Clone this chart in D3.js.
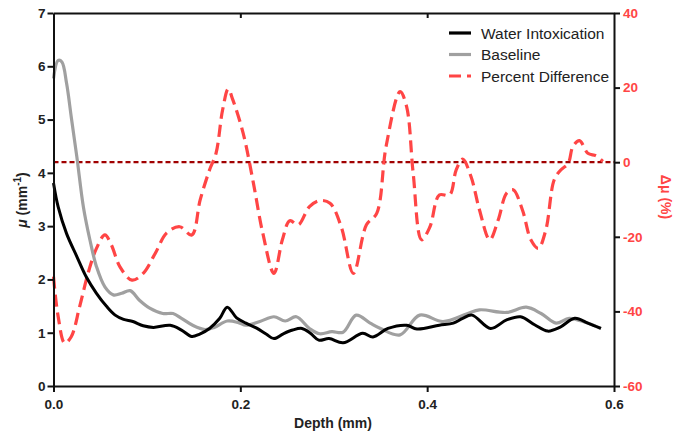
<!DOCTYPE html>
<html>
<head>
<meta charset="utf-8">
<script src="https://d3js.org/d3.v7.min.js"></script>
<style>
  body { margin: 0; background: #fff; }
  text { font-family: Arial, "Liberation Sans", sans-serif; }
  .tick text { font-weight: bold; font-size: 13.5px; }
</style>
</head>
<body>
<script>
//depth (mm) and attenuation (mm^-1) for the water intoxication curve
var waterDepth = [0.000, 0.005, 0.014, 0.025, 0.035, 0.046, 0.057, 0.066, 0.075, 0.085, 0.096, 0.107, 0.125, 0.137, 0.148, 0.156, 0.167, 0.178, 0.186, 0.196, 0.206, 0.217, 0.228, 0.236, 0.246, 0.256, 0.266, 0.275, 0.284, 0.295, 0.310, 0.331, 0.342, 0.358, 0.378, 0.389, 0.413, 0.428, 0.438, 0.448, 0.468, 0.485, 0.500, 0.515, 0.529, 0.542, 0.558, 0.572, 0.586];
var waterMu = [3.81, 3.36, 2.86, 2.43, 2.05, 1.74, 1.49, 1.33, 1.25, 1.21, 1.13, 1.10, 1.14, 1.05, 0.93, 0.97, 1.08, 1.27, 1.48, 1.28, 1.18, 1.09, 0.97, 0.89, 0.98, 1.05, 1.08, 0.99, 0.86, 0.89, 0.81, 0.99, 0.92, 1.08, 1.14, 1.07, 1.14, 1.18, 1.27, 1.33, 1.08, 1.24, 1.30, 1.15, 1.03, 1.10, 1.27, 1.18, 1.08];

//baseline curve
var baseDepth = [0.000, 0.005, 0.009, 0.014, 0.019, 0.025, 0.032, 0.039, 0.046, 0.055, 0.064, 0.073, 0.082, 0.092, 0.103, 0.117, 0.128, 0.137, 0.149, 0.162, 0.172, 0.186, 0.198, 0.206, 0.221, 0.236, 0.248, 0.260, 0.274, 0.285, 0.298, 0.310, 0.324, 0.339, 0.350, 0.371, 0.392, 0.417, 0.442, 0.456, 0.485, 0.506, 0.522, 0.538, 0.552, 0.570, 0.586];
var baseMu = [5.77, 6.11, 6.08, 5.68, 5.05, 4.30, 3.36, 2.74, 2.24, 1.86, 1.71, 1.74, 1.79, 1.61, 1.46, 1.36, 1.36, 1.27, 1.14, 1.06, 1.10, 1.22, 1.19, 1.14, 1.21, 1.30, 1.22, 1.30, 1.08, 0.98, 1.02, 1.01, 1.33, 1.18, 1.08, 0.96, 1.33, 1.21, 1.35, 1.43, 1.38, 1.48, 1.36, 1.18, 1.27, 1.19, 1.08];

//percent difference (right axis)
var diffDepth = [0.000, 0.005, 0.012, 0.019, 0.028, 0.037, 0.046, 0.055, 0.062, 0.071, 0.084, 0.096, 0.109, 0.121, 0.135, 0.148, 0.157, 0.167, 0.174, 0.181, 0.187, 0.192, 0.203, 0.214, 0.224, 0.236, 0.245, 0.253, 0.262, 0.274, 0.285, 0.296, 0.308, 0.321, 0.335, 0.346, 0.356, 0.371, 0.378, 0.385, 0.394, 0.403, 0.413, 0.424, 0.431, 0.438, 0.447, 0.456, 0.467, 0.476, 0.485, 0.492, 0.502, 0.511, 0.519, 0.527, 0.536, 0.543, 0.551, 0.556, 0.563, 0.572, 0.581, 0.588];
var diffPct = [-30.7, -41.4, -48.5, -46.8, -38.7, -29.8, -23.1, -19.5, -22.2, -28.0, -31.6, -29.8, -24.4, -19.0, -17.3, -19.5, -10.1, -2.1, 2.4, 14.0, 19.6, 16.7, 7.8, -5.6, -19.0, -29.8, -20.8, -15.7, -16.8, -11.9, -10.3, -11.0, -17.3, -29.8, -16.8, -13.7, 4.2, 18.9, 14.9, -2.9, -20.8, -17.3, -8.8, -8.8, -2.1, 0.8, -3.9, -12.8, -20.8, -15.5, -8.3, -7.4, -12.8, -20.8, -23.1, -18.2, -4.7, -2.1, -0.3, 4.2, 5.8, 2.4, 1.7, 0.2];

//tick values
var xTicks = [0.0, 0.2, 0.4, 0.6];
var leftTicks = [0, 1, 2, 3, 4, 5, 6, 7];
var rightTicks = [-60, -40, -20, 0, 20, 40];

//legend entries
var legendNames = ["Water Intoxication", "Baseline", "Percent Difference"];

window.onload = function(){
  var red = "#ff4545";

  var svg = d3.select("body")
    .append("svg")
    .attr("width", 677)
    .attr("height", 434);

  //scales
  var x = d3.scaleLinear().domain([0, 0.6]).range([53.5, 614]);
  var yL = d3.scaleLinear().domain([0, 7]).range([386, 13]);
  var yR = d3.scaleLinear().domain([-60, 40]).range([386, 13]);

  //zero line of the percent difference
  svg.append("line")
    .attr("x1", x(0)).attr("x2", x(0.6))
    .attr("y1", yR(0)).attr("y2", yR(0))
    .style("stroke", "#a00000")
    .style("stroke-width", 2.2)
    .style("stroke-dasharray", "5,3");

  //line generators
  function makeLine(xs, ys, yScale){
    return d3.line()
      .x(function(d, i){ return x(xs[i]); })
      .y(function(d){ return yScale(d); })
      .curve(d3.curveCatmullRom.alpha(0.5))(ys);
  }

  svg.append("path")
    .attr("d", makeLine(diffDepth, diffPct, yR))
    .style("fill", "none")
    .style("stroke", red)
    .style("stroke-width", 3.2)
    .style("stroke-dasharray", "12,6");

  svg.append("path")
    .attr("d", makeLine(baseDepth, baseMu, yL))
    .style("fill", "none")
    .style("stroke", "#a0a0a0")
    .style("stroke-width", 3.2);

  svg.append("path")
    .attr("d", makeLine(waterDepth, waterMu, yL))
    .style("fill", "none")
    .style("stroke", "#000")
    .style("stroke-width", 3);

  //bottom axis
  svg.append("g")
    .attr("transform", "translate(0,386)")
    .call(d3.axisBottom(x).tickValues(xTicks).tickFormat(d3.format(".1f")).tickSize(6).tickSizeOuter(0))
    .call(function(g){ g.selectAll("text").attr("dy", "1.05em").style("fill", "#222"); });

  //top axis, ticks point inwards, no labels
  svg.append("g")
    .attr("transform", "translate(0,13)")
    .call(d3.axisTop(x).tickValues([0.2, 0.4]).tickSize(-5).tickSizeOuter(0).tickFormat(""));

  //left axis
  svg.append("g")
    .attr("transform", "translate(53.5,0)")
    .call(d3.axisLeft(yL).tickValues(leftTicks).tickFormat(function(d){ return String(d); }).tickSize(6).tickSizeOuter(0))
    .call(function(g){ g.selectAll("text").attr("x", -8).style("fill", "#222"); });

  //right axis (plain hyphen for negatives)
  svg.append("g")
    .attr("transform", "translate(614,0)")
    .call(d3.axisRight(yR).tickValues(rightTicks).tickFormat(function(d){ return String(d); }).tickSize(6).tickSizeOuter(0))
    .call(function(g){ g.selectAll("text").attr("x", 9).style("fill", red); });

  svg.selectAll(".domain, .tick line")
    .style("stroke", "#111")
    .style("stroke-width", 2);

  //axis titles
  var yTitle = svg.append("text")
    .attr("transform", "translate(27,200) rotate(-90)")
    .attr("text-anchor", "middle")
    .style("font-size", "14px")
    .style("font-weight", "bold")
    .style("fill", "#222");
  yTitle.append("tspan").style("font-style", "italic").text("\u03bc");
  yTitle.append("tspan").text(" (mm");
  yTitle.append("tspan").attr("dy", -6).style("font-size", "10px").text("-1");
  yTitle.append("tspan").attr("dy", 6).text(")");

  svg.append("text")
    .attr("transform", "translate(661,197) rotate(90)")
    .attr("text-anchor", "middle")
    .style("font-size", "14px")
    .style("font-weight", "bold")
    .style("fill", red)
    .text("\u0394\u03bc (%)");

  svg.append("text")
    .attr("x", 333)
    .attr("y", 428)
    .attr("text-anchor", "middle")
    .style("font-size", "14px")
    .style("font-weight", "bold")
    .style("fill", "#222")
    .text("Depth (mm)");

  //legend
  var legendStyles = [
    {color: "#000", dash: null},
    {color: "#a0a0a0", dash: null},
    {color: red, dash: "12,6"}
  ];
  var legend = svg.selectAll(".legend")
    .data(legendNames)
    .enter()
    .append("g")
    .attr("class", "legend")
    .attr("transform", function(d, i){ return "translate(449," + (33 + i * 21.5) + ")"; });

  legend.append("line")
    .attr("x1", 0).attr("x2", 22)
    .style("stroke", function(d, i){ return legendStyles[i].color; })
    .style("stroke-width", 3.2)
    .style("stroke-dasharray", function(d, i){ return legendStyles[i].dash; });

  legend.append("text")
    .attr("x", 32)
    .attr("y", 5.5)
    .style("font-size", "15.5px")
    .style("fill", "#222")
    .text(function(d){ return d; });
};
</script>
</body>
</html>
